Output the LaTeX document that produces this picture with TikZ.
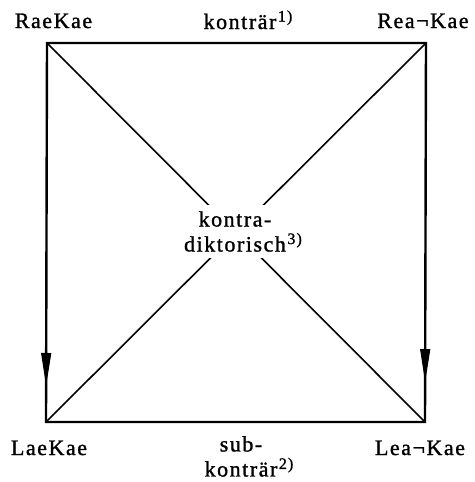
\documentclass[tikz,border=0pt]{standalone}
\usepackage{fontspec}
\setmainfont{Liberation Serif}[LetterSpace=7, FakeBold=1.2]
\usetikzlibrary{arrows.meta, decorations.markings}
\newcommand{\fnmark}[1]{\rlap{\hspace{1.5pt}\raisebox{7.5pt}{\fontsize{16}{16}\selectfont #1}}}

\begin{document}
\begin{tikzpicture}[
    x=1pt, y=-1pt,
    label/.style={font=\fontsize{22}{25}\selectfont, inner sep=0pt, align=center},
    frame/.style={line width=2.4pt, line join=miter},
    diag/.style={line width=1.6pt},
    downarrow/.style={postaction={decorate}, decoration={markings,
        mark=at position #1 with {\arrow[line width=1pt]{Triangle[length=33pt,width=10pt]}}}}
  ]
    \useasboundingbox (0,0) rectangle (474,482);

    % corners of the square
    \coordinate (rk)  at (47,43);
    \coordinate (rnk) at (426,43);
    \coordinate (lk)  at (46,422);
    \coordinate (lnk) at (425,422);

    \draw[diag] (rk) -- (lnk);
    \draw[diag] (rnk) -- (lk);

    \draw[frame] (rk) -- (rnk) -- (lnk) -- (lk) -- cycle;
    \path[downarrow=0.905] (rk) -- (lk);
    \path[downarrow=0.895] (rnk) -- (lnk);

    \node[label, anchor=base] (raekae) at (53.5,28) {RaeKae};
    \node[label, anchor=base] (reankae) at (423,28) {Rea¬Kae};
    \node[label, anchor=base] (laekae) at (49,455) {LaeKae};
    \node[label, anchor=base] (leankae) at (420,455) {Lea¬Kae};

    \node[label, anchor=base] (kontr) at (240,29) {konträr\fnmark{1)}};
    \node[label, anchor=north] (subk) at (241,436) {sub-\\konträr\fnmark{2)}};

    \node[label, fill=white, minimum height=53pt, minimum width=130pt] (kdikt) at (235,231.5)
      {kontra-\\diktorisch\fnmark{3)}};
\end{tikzpicture}
\end{document}
